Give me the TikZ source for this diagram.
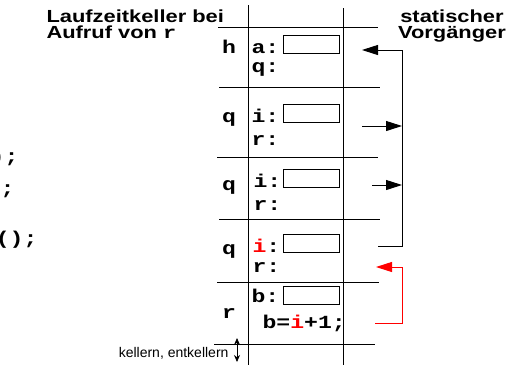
\documentclass[tikz,border=0pt]{standalone}
\usepackage{fontspec}
\setmainfont[FakeStretch=1.25]{Liberation Sans}
\newfontfamily\kellertt[FakeStretch=1.25]{Liberation Mono}
\newfontfamily\schmal{Liberation Sans}
\usetikzlibrary{arrows.meta}

\begin{document}
\begin{tikzpicture}[x=1pt,y=-1pt,line width=1pt,>={Triangle[length=16pt,width=10pt]},
  titel/.style={font=\fontsize{17.5}{17.5}\selectfont\bfseries,inner sep=0pt},
  prog/.style={font=\fontsize{18.5}{18.5}\selectfont\kellertt\bfseries,inner sep=0pt,anchor=base west},
  rahmen/.style={prog,anchor=base},
  feld/.style={draw,line width=0.8pt,minimum width=56pt,minimum height=18pt,inner sep=0pt,anchor=south west}]

\useasboundingbox (0,0) rectangle (512,365);

% Programmtext, links abgeschnitten
\begin{scope}
\clip (0,0) rectangle (512,365);
\node[prog,anchor=base east] (c1) at (19,162) {q();};
\node[prog,anchor=base east] (c2) at (15,194) {r();};
\node[prog,anchor=base east] (c3) at (38,244) {q();};
\end{scope}

% Ueberschriften
\node[titel,anchor=base west] (t1) at (46,22.5) {Laufzeitkeller bei};
\node[titel,anchor=base west] (t2) at (46,38.5) {Aufruf von {\kellertt r}};
\node[titel,anchor=base] (t3) at (452,22.5) {statischer};
\node[titel,anchor=base] (t4) at (452,38.5) {Vorgänger};

% Keller
\draw (248,5) -- (248,365);
\draw (343,8) -- (343,365);
\draw (218,27) -- (378,27);
\draw (219,87) -- (380,87);
\draw (217,157) -- (378,157);
\draw (219,219) -- (380,219);
\draw (217,282) -- (379,282);
\draw (214,344) -- (375,344);

% Rahmen h
\node[rahmen] (fh) at (229,53) {h};
\node[prog] (sa) at (251,53) {a:};
\node[feld] (ba) at (283,54) {};
\node[prog] (sq) at (251,72) {q:};
% Rahmen q
\node[rahmen] (fq1) at (229,122) {q};
\node[prog] (si1) at (251,122) {i:};
\node[feld] (bi1) at (283,123) {};
\node[prog] (sr1) at (251,145) {r:};
% Rahmen q
\node[rahmen] (fq2) at (229,190) {q};
\node[prog] (si2) at (253,187) {i:};
\node[feld] (bi2) at (283,188) {};
\node[prog] (sr2) at (253,210) {r:};
% Rahmen q
\node[rahmen] (fq3) at (229,254) {q};
\node[prog,text=red] (si3) at (252,252) {i\textcolor{black}{:}};
\node[feld] (bi3) at (283,253) {};
\node[prog] (sr3) at (252,272) {r:};
% Rahmen r
\node[rahmen] (fr) at (229,318) {r};
\node[prog] (sb) at (251,302) {b:};
\node[feld] (bb) at (283,305) {};
\node[prog] (sbi) at (262,328) {b=\textcolor{red}{i}+1;};

% statischer Vorgaenger
\coordinate (ah) at (362,50);
\coordinate (sv1) at (402,50);
\coordinate (e2) at (362,126);
\coordinate (sv2) at (402,126);
\coordinate (e3) at (372,185);
\coordinate (sv3) at (402,185);
\coordinate (e4) at (378,246);
\coordinate (sv4) at (402,246);
\draw[->] (sv1) -- (ah);
\draw (sv1) -- (sv4) -- (e4);
\draw[->] (e2) -- (sv2);
\draw[->] (e3) -- (sv3);

\coordinate (e5) at (375,323);
\coordinate (rv5) at (402,323);
\coordinate (rv4) at (402,267);
\coordinate (e4r) at (376,267);
\draw[red,->] (e5) -- (rv5) -- (rv4) -- (e4r);

% kellern, entkellern
\node[inner sep=0pt,anchor=base east,font=\fontsize{14}{14}\selectfont\schmal] (ke) at (229,357) {kellern, entkellern};
\coordinate (ko) at (237,338);
\coordinate (ku) at (237,362);
\draw[line width=0.8pt,{Stealth[length=7pt,width=6pt]}-{Stealth[length=7pt,width=6pt]}] (ko) -- (ku);

\end{tikzpicture}
\end{document}
